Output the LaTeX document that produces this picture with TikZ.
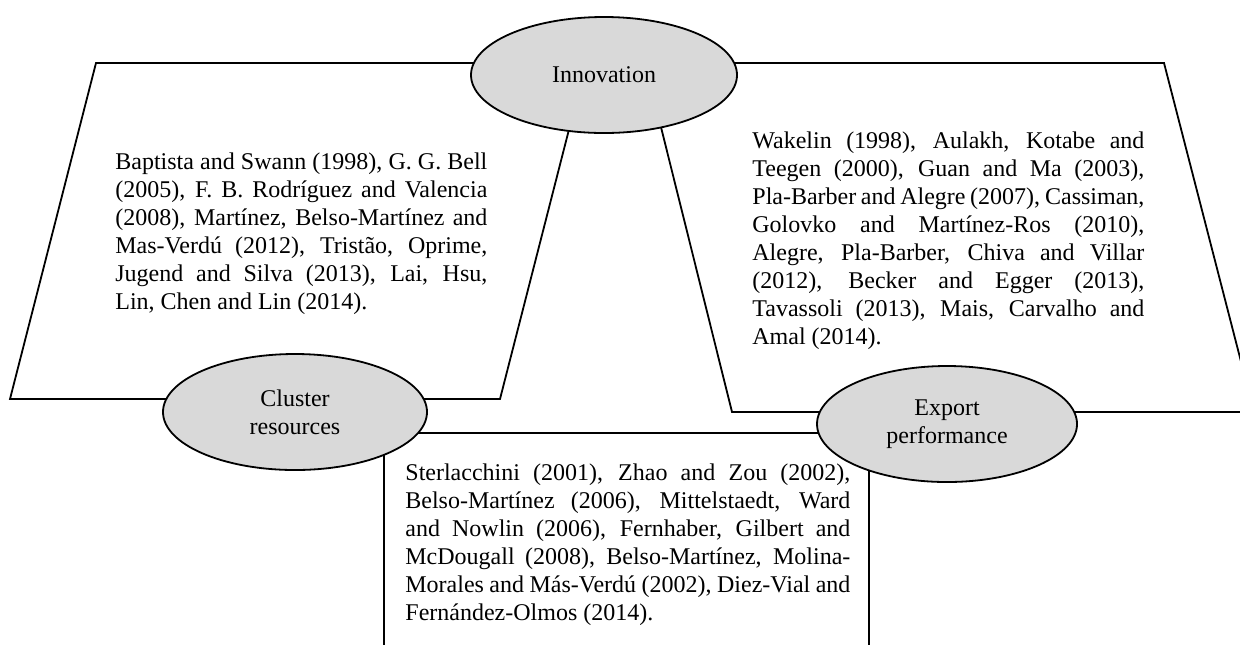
\documentclass[tikz,border=0pt]{standalone}
\usepackage{fontspec}
\setmainfont{Liberation Serif}
\usetikzlibrary{shapes.geometric}
\tikzset{
  frame/.style={draw=black, line width=0.9pt, line join=miter},
  oval/.style={ellipse, draw=black, line width=0.9pt, fill=ovalgray, inner sep=0pt,
    align=center, font=\fontsize{12}{14}\selectfont},
  refs/.style={anchor=north west, inner sep=0pt, align=justify,
    font=\fontsize{12}{14}\selectfont}
}
\definecolor{ovalgray}{HTML}{D9D9D9}
\begin{document}
\begin{tikzpicture}[x=0.5pt, y=-0.5pt]
\useasboundingbox (0,0) rectangle (1240,644);
\clip (0,0) rectangle (1240,644);
% shapes
\coordinate (lpA) at (96,63);
\coordinate (lpB) at (586,63);
\coordinate (lpC) at (500,399);
\coordinate (lpD) at (10,399);
\draw[frame] (lpA) -- (lpB) -- (lpC) -- (lpD) -- cycle;
\coordinate (rpA) at (645,63);
\coordinate (rpB) at (1164,63);
\coordinate (rpC) at (1254,412);
\coordinate (rpD) at (732,412);
\draw[frame] (rpA) -- (rpB) -- (rpC) -- (rpD) -- cycle;
\coordinate (bxA) at (384,433);
\coordinate (bxB) at (869,670);
\draw[frame] (bxA) rectangle (bxB);
% texts
\node[refs, text width=186pt] (lefttext) at (115,152) {Baptista and Swann (1998), G. G. Bell\linebreak
(2005), F. B. Rodríguez and Valencia\linebreak
(2008), Martínez, Belso-Martínez and\linebreak
Mas-Verdú (2012), Tristão, Oprime,\linebreak
Jugend and Silva (2013), Lai, Hsu,\linebreak
Lin, Chen and Lin (2014).};
\node[refs, text width=196pt] (righttext) at (752,131) {Wakelin (1998), Aulakh, Kotabe and\linebreak
Teegen (2000), Guan and Ma (2003),\linebreak
Pla-Barber and Alegre (2007), Cassiman,\linebreak
Golovko and Martínez-Ros (2010),\linebreak
Alegre, Pla-Barber, Chiva and Villar\linebreak
(2012), Becker and Egger (2013),\linebreak
Tavassoli (2013), Mais, Carvalho and\linebreak
Amal (2014).};
\node[refs, text width=222.5pt] (bottomtext) at (405,463) {Sterlacchini (2001), Zhao and Zou (2002),\linebreak
Belso-Martínez (2006), Mittelstaedt, Ward\linebreak
and Nowlin (2006), Fernhaber, Gilbert and\linebreak
McDougall (2008), Belso-Martínez, Molina-\linebreak
Morales and Más-Verdú (2002), Diez-Vial and\linebreak
Fernández-Olmos (2014).};
% ovals
\node[oval, minimum width=133pt, minimum height=58pt] (innov) at (604,75) {Innovation};
\node[oval, minimum width=132pt, minimum height=58pt] (cluster) at (295,412) {Cluster\\resources};
\node[oval, minimum width=130pt, minimum height=58pt] (export) at (947,424) {Export\\performance};
\end{tikzpicture}
\end{document}
